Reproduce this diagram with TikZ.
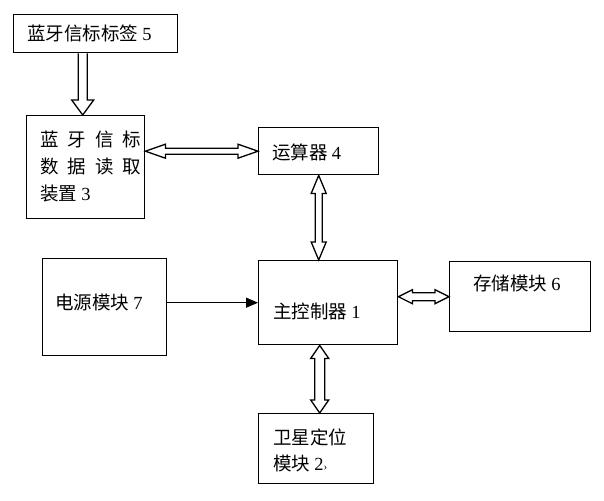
\documentclass[tikz,border=0pt]{standalone}
\usepackage{fontspec}
\setmainfont{Liberation Serif}
\newfontfamily\cjk{Noto Sans CJK SC}
\usetikzlibrary{calc,arrows.meta}
\newcommand\dg[1]{{\rmfamily #1}}
% vertical double block arrow: #1 top, #2 bottom, #3 shaft half, #4 head half, #5 head length
\newcommand\vdbl[5]{\path[arr] let \p1=#1, \p2=#2 in
 (\x1,\y1) -- (\x1+#4pt,\y1-#5pt) -- (\x1+#3pt,\y1-#5pt) -- (\x1+#3pt,\y2+#5pt) -- (\x1+#4pt,\y2+#5pt) -- (\x1,\y2) -- (\x1-#4pt,\y2+#5pt) -- (\x1-#3pt,\y2+#5pt) -- (\x1-#3pt,\y1-#5pt) -- (\x1-#4pt,\y1-#5pt) -- cycle;}
% horizontal double block arrow: #1 left, #2 right
\newcommand\hdbl[5]{\path[arr] let \p1=#1, \p2=#2 in
 (\x1,\y1) -- (\x1+#5pt,\y1+#4pt) -- (\x1+#5pt,\y1+#3pt) -- (\x2-#5pt,\y1+#3pt) -- (\x2-#5pt,\y1+#4pt) -- (\x2,\y1) -- (\x2-#5pt,\y1-#4pt) -- (\x2-#5pt,\y1-#3pt) -- (\x1+#5pt,\y1-#3pt) -- (\x1+#5pt,\y1-#4pt) -- cycle;}
% single downward block arrow: #1 top, #2 bottom (tip)
\newcommand\vsgl[5]{\path[arr] let \p1=#1, \p2=#2 in
 (\x1-#3pt,\y1) -- (\x1-#3pt,\y2+#5pt) -- (\x1-#4pt,\y2+#5pt) -- (\x1,\y2) -- (\x1+#4pt,\y2+#5pt) -- (\x1+#3pt,\y2+#5pt) -- (\x1+#3pt,\y1);}
\begin{document}
\begin{tikzpicture}[x=1pt,y=-1pt,
  box/.style={draw, line width=1.4pt, inner sep=0pt, anchor=north west},
  lbl/.style={font=\cjk\fontsize{18.5}{27}\selectfont, inner sep=0pt, anchor=west, align=left},
  arr/.style={draw, line width=1.3pt, fill=white, line join=miter}]
\useasboundingbox[fill=white] (0,0) rectangle (604,500);
% boxes
\node[box, minimum width=164, minimum height=38] (b5) at (13,14) {};
\node[box, minimum width=118, minimum height=103] (b3) at (26,115) {};
\node[box, minimum width=120, minimum height=47] (b4) at (258,127) {};
\node[box, minimum width=139, minimum height=84] (b1) at (258,260) {};
\node[box, minimum width=141, minimum height=70] (b6) at (449,261) {};
\node[box, minimum width=115, minimum height=70] (b2) at (258,413) {};
\node[box, minimum width=124, minimum height=97] (b7) at (42,258) {};
% labels
\node[lbl] (t5) at (27,33) {蓝牙信标标签 \dg{5}};
\node[lbl] (t3) at (40,167) {蓝\hspace{9pt}牙\hspace{9pt}信\hspace{9pt}标\\数\hspace{9pt}据\hspace{9pt}读\hspace{9pt}取\\装置 \dg{3}};
\node[lbl] (t4) at (272,152) {运算器 \dg{4}};
\node[lbl] (t1) at (273,311) {主控制器 \dg{1}};
\node[lbl] (t6) at (473,283) {存储模块 \dg{6}};
\node[lbl, font=\cjk\fontsize{18.5}{26}\selectfont] (t2) at (273,450) {卫星定位\\模块 \dg{2{\fontsize{11}{11}\selectfont ›}}};
\node[lbl] (t7) at (55,302) {电源模块 \dg{7}};
% connectors
\coordinate (c3) at ([xshift=-3pt]b3.north);
\vsgl{(c3 |- b5.south)}{(c3)}{4.5}{11}{15}
\hdbl{(b4.west -| b3.east)}{(b4.west)}{3}{7}{20}
\vdbl{(b4.south)}{(b4.south |- b1.north)}{3.5}{7.5}{18}
\hdbl{(b6.west -| b1.east)}{(b6.west)}{4}{7}{14}
\coordinate (c2) at ([xshift=3.5pt]b2.north);
\vdbl{(c2 |- b1.south)}{(c2)}{5}{9}{13}
\draw[line width=1.3pt, -{Triangle[length=12pt,width=10pt]}] (b1.west -| b7.east) -- (b1.west);
\end{tikzpicture}
\end{document}
